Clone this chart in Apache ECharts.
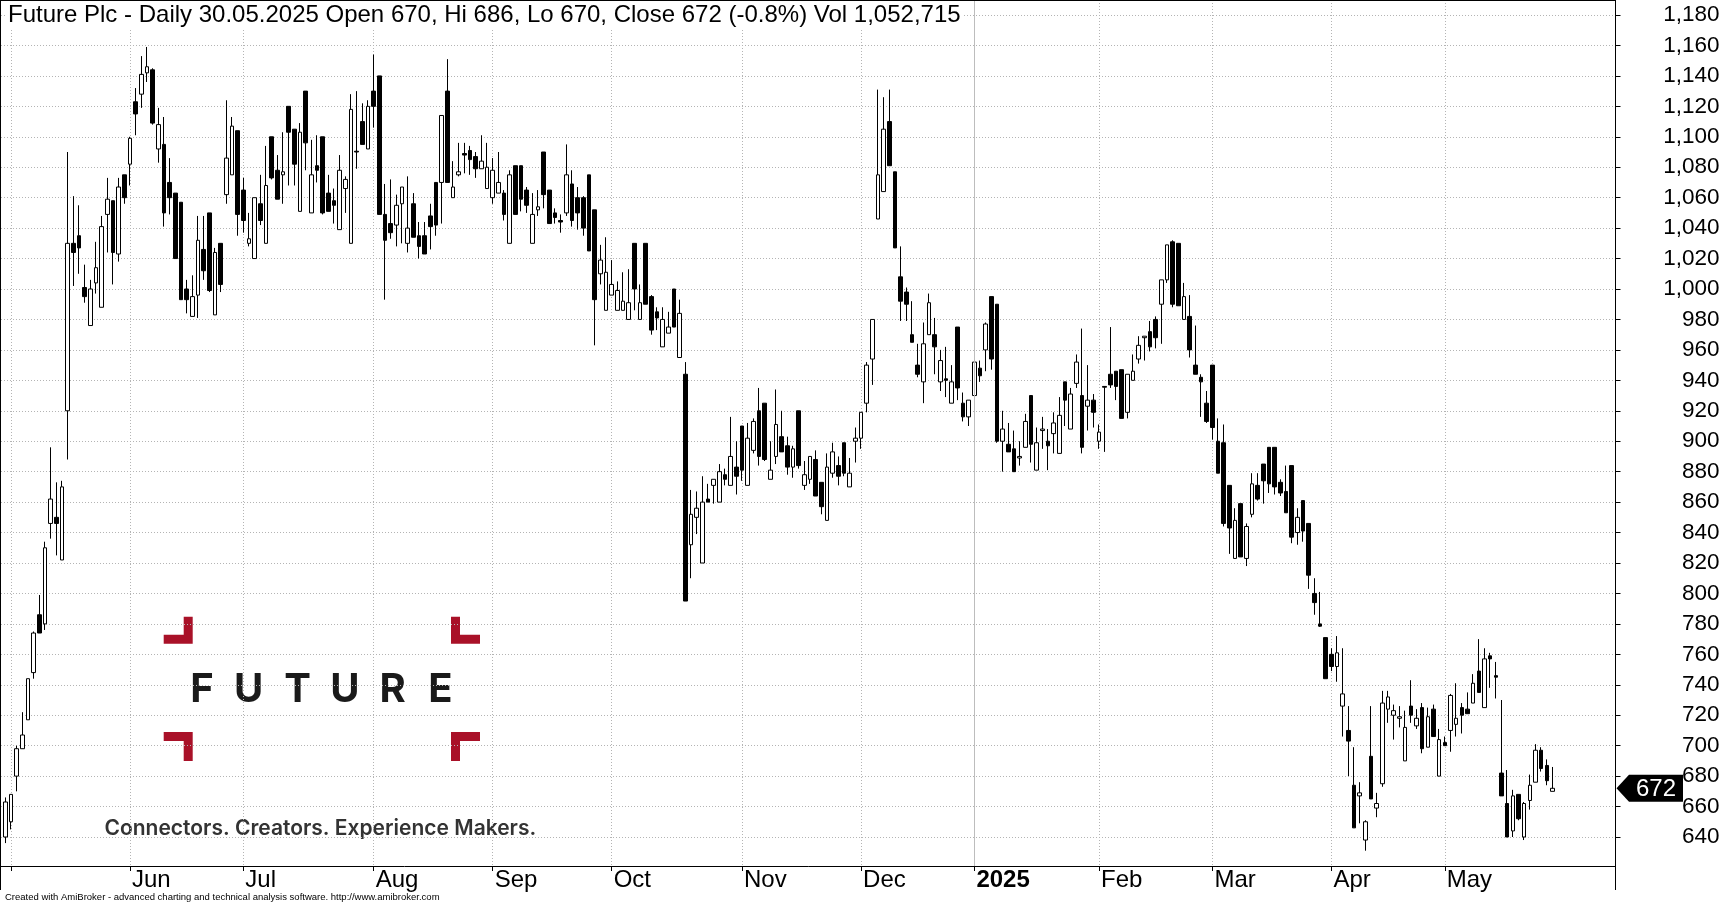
<!DOCTYPE html>
<html lang="en">
  <head>
    <meta charset="UTF-8" />
    <title>Future Plc - Daily</title>
    <style>
      html, body { margin: 0; padding: 0; background: #fff; }
      #chart { width: 1724px; height: 903px; }
    </style>
    <script src="https://cdn.jsdelivr.net/npm/echarts@6/dist/echarts.min.js"></script>
  </head>
  <body>
    <div id="chart"></div>

    <script>
      const opens = [
        640,650,680,698,717,748,786,780,846,850,
        822,920,1030,1035,1001,976,1004,988,1049,1058,
        1023,1075,1082,1123,1128,1142,1144,1092,1095,1070,
        1063,1057,1000,982,996,1026,1050,983,1030,1062,
        1075,1104,1065,1030,1020,1056,1030,1100,1078,1075,
        1120,1105,1051,1130,1050,1081,1100,1063,1058,1039,
        1066,1030,1090.5,1110,1092,1130,1140,1049,1043,1042,
        1056,1030,1056,1035,1035,1048,1070,1070,1130,1060,
        1075,1089,1091,1087,1079,1066,1060,1063,1063,1030,
        1081,1081,1065,1030,1052,1090,1065,1050,1045,1050,
        1069,1060,1060,1075,1052,1010,986,996,986,986,
        980,1030,980,1030,995,985,962,971,1000,955,
        944,832,850,820,862,871,860,878,871,883,
        910,871,894,920,925,875,890,903,897,883,
        920,871,875,888,873,848,879,884,899,870,
        900,902,925,954,1046,1064,1110,1077,1008,998,
        970,950,939,970,970,939,941,925,975,925,
        916,930,948,960,995,990,900,898,895,889,
        896,930,881,907,900,905,892,939,908,938,
        930,923,927,900,936,944,946,947,919,940,
        954,968,972,980,990,1006,1031,1030,980,982,
        950,942,925,950,900,899,871,823,859,823,
        852,871,885,896,896,873,867,884,840,861,
        846,800,780,771,760,752,726,710,674,667,
        638,693,659,675,724,720,718,690,726,713,
        725,699,724,680,702,710,714,725,724,728,
        749,725,759,746,682,662,644,668,640,664,
        676,697,687,670
      ];
      const highs = [
        666,668,700,722,744,775,799,834,896,873,
        874,1090,1061,1055,1016,1006,1031,1048,1073,1058,
        1073,1075,1100,1132,1153,1159,1145,1119,1113,1086,
        1063,1057,1006,1009,1048,1048,1050,1027,1030,1124,
        1113,1104,1073,1050,1060,1075,1094,1100,1088,1103,
        1120,1105,1109,1130,1098,1101,1100,1075,1066,1088,
        1074,1128,1130,1122,1124,1154,1140,1069,1072,1062,
        1067,1074,1063,1044,1044,1056,1070,1114,1151,1084,
        1096,1096,1094,1090,1101,1096,1086,1090,1065,1078,
        1081,1081,1067,1063,1065,1090,1065,1053,1049,1095,
        1078,1067,1061,1075,1052,1029,1034,1019,1005,1011,
        1013,1030,1003,1030,996,988,988,985,1000,993,
        952,868,867,877,872,875,885,882,916,900,
        910,912,915,935,925,900,934,920,903,897,
        920,887,890,894,873,892,899,890,899,889,
        909,919,952,980,1131,1126,1131,1077,1028,1001,
        992,964,978,997,981,960,962,950,975,932,
        927,954,953,978,995,990,920,912,907,900,
        918,930,909,916,908,919,929,939,935,957,
        974,950,931,911,936,975,946,947,944,957,
        969,969,979,982,1006,1029,1032,1030,1004,996,
        976,944,933,950,915,911,871,856,859,846,
        879,879,885,896,896,875,884,884,856,861,
        846,810,801,771,764,772,764,726,699,676,
        651,726,669,736,736,727,726,723,743,724,
        728,725,727,711,706,734,741,728,735,747,
        770,764,761,755,730,684,671,668,663,681,
        701,699,691,686
      ];
      const lows = [
        636,645,670,698,717,744,774,776,836,825,
        822,888,1002,1010,991,976,997,988,1024,1003,
        1018,1056,1068,1101,1119,1136,1108,1083,1041,1049,
        1020,993,984,982,981,1006,998,983,998,1056,
        1075,1035,1037,1028,1020,1042,1030,1072,1059,1056,
        1068,1068,1051,1078,1050,1070,1049,1051,1043,1039,
        1050,1030,1079,1095,1092,1106,1049,993,1033,1028,
        1030,1024,1034,1020,1023,1026,1035,1043,1070,1060,
        1074,1076,1075,1073,1079,1066,1056,1063,1045,1030,
        1049,1051,1050,1030,1048,1053,1043,1043,1037,1048,
        1041,1039,1035,1025,963,1003,986,996,986,986,
        980,986,980,990,970,973,962,971,975,955,
        795,810,839,820,860,859,860,871,871,865,
        874,871,892,884,887,875,885,893,878,876,
        882,868,872,864,852,848,876,871,877,870,
        886,895,919,937,1046,1064,1081,1027,979,979,
        965,942,925,970,944,933,929,925,927,913,
        910,927,939,946,947,899,880,893,880,884,
        896,886,881,895,881,892,892,910,908,935,
        892,907,909,895,893,935,927,915,915,940,
        951,953,959,961,964,1004,988,989,980,955,
        944,916,912,901,879,844,826,823,824,818,
        850,861,859,866,865,864,853,833,832,834,
        803,786,778,744,749,742,706,680,646,649,
        631,665,653,673,715,704,712,690,715,711,
        695,699,706,680,700,696,706,708,721,728,
        735,725,738,731,667,640,640,651,638,658,
        676,683,674,670
      ];
      const closes = [
        663,668,698,707,744,774,774,830,862,846,
        870,1030,1024,1027,995,1000,1014,1041,1059,1024,
        1067,1060,1099,1115,1141,1146,1109,1108,1050,1060,
        1020,993,993,995,1032,1012,999,1024,1003,1086,
        1107,1049,1045,1033,1060,1045,1068,1073,1059,1077,
        1103,1082,1103,1096,1075,1078,1050,1051,1055,1078,
        1072,1118,1090,1095,1120,1120,1049,1032,1037,1055,
        1067,1040,1034,1028,1023,1041,1042,1114,1070,1067,
        1077,1088,1085,1079,1084,1080,1078,1070,1049,1075,
        1049,1059,1055,1049,1054,1062,1043,1047,1044,1075,
        1045,1050,1040,1025,993,1019,1011,1003,999,992,
        991,1000,991,990,973,981,980,975,975,984,
        795,852,856,860,860,875,880,875,890,877,
        881,902,913,890,888,881,911,893,883,895,
        884,878,890,864,857,883,893,877,879,879,
        902,919,950,980,1075,1105,1081,1027,992,990,
        965,944,964,991,962,953,940,939,935,916,
        927,952,943,977,954,900,908,893,880,890,
        913,898,899,908,897,912,917,927,931,952,
        896,927,919,906,935.5,937,936,915,944,946,
        963,969,962,968,1006,1029,990,989,995,960,
        944,939,913,909,879,846,843,848,824,844,
        872,862,874,872,870,866,853,837,850,841,
        812,794,778.5,744,752,761,734,703,646,669,
        650,665,662,728,732,723,719,712,720,718,
        698,719,706,704,700,733,718,720,721,741,
        735,757,757,745,667,640,667,652,662,674,
        697,685,677,672
      ];

      // bar index of each month's first session, as ticked on the time axis
      const monthTicks = [1, 22, 42, 65, 86, 107, 130, 151, 171, 193, 213, 234, 254];
      const monthLabels = ['', 'Jun', 'Jul', 'Aug', 'Sep', 'Oct', 'Nov', 'Dec', '2025', 'Feb', 'Mar', 'Apr', 'May'];
      const yearTick = 171;
      const priceTicks = [
        640, 660, 680, 700, 720, 740, 760, 780, 800, 820, 840, 860, 880, 900,
        920, 940, 960, 980, 1000, 1020, 1040, 1060, 1080, 1100, 1120, 1140, 1160, 1180
      ];

      const titleText = 'Future Plc - Daily 30.05.2025 Open 670, Hi 686, Lo 670, Close 672 (-0.8%) Vol 1,052,715';
      const footerText = 'Created with AmiBroker - advanced charting and technical analysis software. http://www.amibroker.com';
      const logoWord = ['F', 'U', 'T', 'U', 'R', 'E'];
      const logoWordX = [202, 248.7, 297.7, 345, 392.7, 440.3];
      const logoTagline = 'Connectors. Creators. Experience Makers.';

      const FONT = '"Liberation Sans", Arial, sans-serif';
      const GRID_COLOR = '#b4b4b4';
      const LOGO_RED = '#a91128';

      const candles = opens.map((o, i) => [i, o, closes[i], lows[i], highs[i]]);
      const lastBar = [opens.length - 1, closes[closes.length - 1]];

      // corner bracket of the logo, from its outer corner
      function bracket(x, y, dx, dy, h) {
        const w = 29, t = 9;
        return {
          type: 'polygon',
          shape: {
            points: [
              [x, y],
              [x + dx * w, y],
              [x + dx * w, y + dy * t],
              [x + dx * t, y + dy * t],
              [x + dx * t, y + dy * h],
              [x, y + dy * h]
            ]
          },
          style: { fill: LOGO_RED },
          silent: true
        };
      }

      const chart = echarts.init(document.getElementById('chart'), null, { renderer: 'canvas' });

      chart.setOption({
        animation: false,
        backgroundColor: '#fff',
        title: {
          text: titleText,
          left: 6,
          top: 0,
          padding: [3, 2, 1, 2],
          backgroundColor: '#fff',
          textStyle: { fontFamily: FONT, fontSize: 24, fontWeight: 'normal', color: '#000' }
        },
        grid: { left: 1, top: 0, width: 1614.5, height: 866 },
        xAxis: {
          type: 'value',
          min: -0.764,
          max: 284.13,
          axisLine: { onZero: false, lineStyle: { color: '#000', width: 1 } },
          axisTick: { length: 5, customValues: monthTicks, lineStyle: { color: '#000' } },
          axisLabel: {
            customValues: monthTicks,
            align: 'left',
            verticalAlign: 'top',
            margin: 2,
            padding: [0, 0, 0, 2],
            color: '#000',
            fontFamily: FONT,
            fontSize: 24,
            formatter: (v) => {
              const label = monthLabels[monthTicks.indexOf(v)];
              return v === yearTick ? '{year|' + label + '}' : label;
            },
            rich: {
              year: { fontFamily: FONT, fontSize: 24, fontWeight: 'bold', color: '#000' }
            }
          },
          splitLine: { show: true, lineStyle: { color: GRID_COLOR, width: 1, type: [1, 2] } }
        },
        yAxis: {
          type: 'value',
          position: 'right',
          min: 620.95,
          max: 1189.86,
          axisLine: { show: true, onZero: false, lineStyle: { color: '#000', width: 1 } },
          axisTick: { show: true, length: 5, customValues: priceTicks, lineStyle: { color: '#000' } },
          axisLabel: {
            customValues: priceTicks,
            align: 'right',
            margin: 104,
            padding: [4, 0, 0, 0],
            color: '#000',
            fontFamily: FONT,
            fontSize: 22.5,
            formatter: (v) => v.toLocaleString('en-US')
          },
          splitLine: { show: true, lineStyle: { color: GRID_COLOR, width: 1, type: [1, 2] } }
        },
        series: [
          {
            type: 'candlestick',
            data: candles,
            barWidth: 4,
            itemStyle: {
              color: '#fff',
              color0: '#000',
              borderColor: '#000',
              borderColor0: '#000',
              borderColorDoji: '#000',
              borderWidth: 1
            },
            markLine: {
              silent: true,
              symbol: 'none',
              label: { show: false },
              lineStyle: { color: '#bdbdbd', width: 1, type: 'solid' },
              data: [{ xAxis: yearTick }]
            }
          },
          {
            // last close tag on the price scale
            type: 'custom',
            clip: false,
            silent: true,
            z: 10,
            data: [lastBar],
            encode: { x: 0, y: 1 },
            renderItem: (params, api) => {
              const y = api.coord([api.value(0), api.value(1)])[1];
              return {
                type: 'group',
                children: [
                  {
                    type: 'polygon',
                    shape: {
                      points: [
                        [1616.5, y],
                        [1629, y - 13.5],
                        [1683, y - 13.5],
                        [1683, y + 13.5],
                        [1629, y + 13.5]
                      ]
                    },
                    style: { fill: '#000' }
                  },
                  {
                    type: 'text',
                    style: {
                      x: 1656,
                      y: y + 1,
                      text: String(api.value(1)),
                      align: 'center',
                      verticalAlign: 'middle',
                      fill: '#fff',
                      font: '24px ' + FONT
                    }
                  }
                ]
              };
            }
          }
        ],
        graphic: {
          elements: [
            { type: 'rect', shape: { x: 0, y: 0, width: 1, height: 890 }, style: { fill: '#000' }, silent: true, z: 20 },
            { type: 'rect', shape: { x: 0, y: 0, width: 1615, height: 1 }, style: { fill: '#000' }, silent: true, z: 20 },
            { type: 'rect', shape: { x: 1615, y: 866, width: 1, height: 24 }, style: { fill: '#000' }, silent: true, z: 20 },
            bracket(192.7, 643.7, -1, -1, 27),
            bracket(451, 643.7, 1, -1, 27),
            bracket(192.7, 732, -1, 1, 29),
            bracket(451, 732, 1, 1, 29),
            ...logoWord.map((ch, i) => ({
              type: 'text',
              silent: true,
              style: {
                x: logoWordX[i],
                y: 690,
                text: ch,
                align: 'center',
                verticalAlign: 'middle',
                fill: '#1a1a1a',
                font: '700 40px Inter, "Noto Sans", sans-serif'
              }
            })),
            {
              type: 'text',
              silent: true,
              style: {
                x: 104.5,
                y: 829,
                text: logoTagline,
                align: 'left',
                verticalAlign: 'middle',
                fill: '#333',
                font: '600 21px Inter, "Noto Sans", sans-serif'
              }
            },
            {
              type: 'text',
              silent: true,
              style: {
                x: 5,
                y: 897,
                text: footerText,
                align: 'left',
                verticalAlign: 'middle',
                fill: '#000',
                font: '9.5px ' + FONT
              }
            }
          ]
        }
      });
    </script>
  </body>
</html>
